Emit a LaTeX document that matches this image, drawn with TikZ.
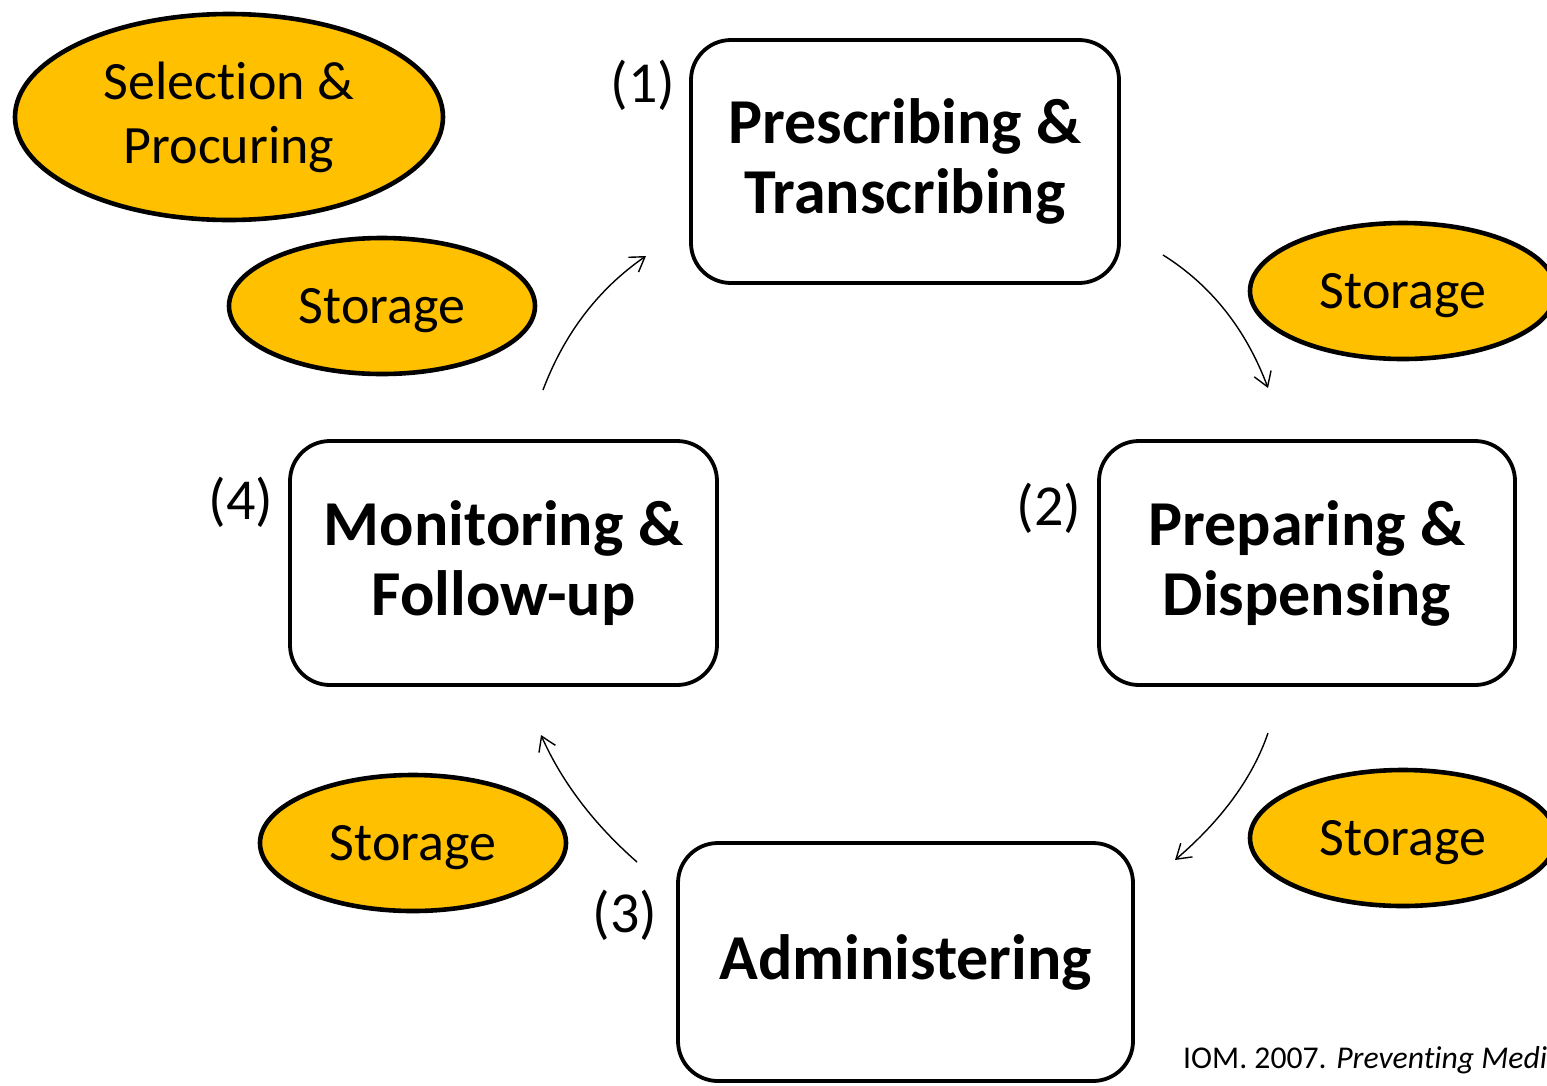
\documentclass[tikz,border=0pt]{standalone}
\usepackage{fontspec}
\setmainfont{Carlito}[Ligatures=NoCommon]
\usetikzlibrary{shapes.geometric,arrows.meta}
\definecolor{gold}{HTML}{FFC000}
\begin{document}
\begin{tikzpicture}[x=1pt,y=-1pt,
  oval/.style={ellipse,draw=black,line width=4.6pt,fill=gold,inner sep=0pt,align=center,
    font=\fontsize{54}{64}\selectfont},
  stepbox/.style={draw=black,line width=3.8pt,rounded corners=40pt,inner sep=0pt,align=center,
    font=\fontsize{64}{70}\selectfont\bfseries},
  numlab/.style={font=\fontsize{58}{60}\selectfont,inner sep=0pt},
  flow/.style={line width=1.4pt,-{Straight Barb[length=14pt,width=18pt]}}]
\clip (0,0) rectangle (1547,1085);
\fill[white] (0,0) rectangle (1547,1085);
% ellipses
\node[oval,minimum width=428pt,minimum height=206pt] (sel) at (229,117) {Selection \&\\Procuring};
\node[oval,minimum width=306pt,minimum height=136pt,text depth=0pt] (st1) at (382,306) {Storage};
\node[oval,minimum width=306pt,minimum height=136pt,text depth=0pt] (st2) at (1403,291) {Storage};
\node[oval,minimum width=306pt,minimum height=136pt,text depth=0pt] (st3) at (1403,838) {Storage};
\node[oval,minimum width=306pt,minimum height=136pt,text depth=0pt] (st4) at (413,843) {Storage};
% boxes
\node[stepbox,minimum width=428pt,minimum height=243pt] (pre) at (905,161.5) {Prescribing \&\\Transcribing};
\node[stepbox,minimum width=416pt,minimum height=244pt] (prep) at (1307,563) {Preparing \&\\Dispensing};
\node[stepbox,minimum width=427pt,minimum height=244pt] (mon) at (503.5,563) {Monitoring \&\\Follow-up};
\node[stepbox,minimum width=455pt,minimum height=238pt] (adm) at (905.5,962) {Administering};
% numbers
\node[numlab] (n1) at (643,85) {(1)};
\node[numlab] (n2) at (1049,508) {(2)};
\node[numlab] (n3) at (625,915) {(3)};
\node[numlab] (n4) at (241,502) {(4)};
% arrows
\coordinate (a1s) at (1163,255); \coordinate (a1e) at (1268,388);
\coordinate (a2s) at (1268,733); \coordinate (a2e) at (1175,860);
\coordinate (a3s) at (637,862);  \coordinate (a3e) at (541,735);
\coordinate (a4s) at (543,390);  \coordinate (a4e) at (646,256);
\draw[flow] (a1s) .. controls (1211,285) and (1246,329.3) .. (a1e);
\draw[flow] (a2s) .. controls (1252.7,777.7) and (1221.7,820) .. (a2e);
\draw[flow] (a3s) .. controls (593.7,824) and (561.7,781.7) .. (a3e);
\draw[flow] (a4s) .. controls (564.3,333.3) and (598.7,288.7) .. (a4e);
% citation
\node[anchor=base west,inner sep=0pt,font=\fontsize{31.7}{34}\selectfont] (cite) at (1183,1068) {IOM. 2007. \textit{Preventing Medi}};
\end{tikzpicture}
\end{document}
